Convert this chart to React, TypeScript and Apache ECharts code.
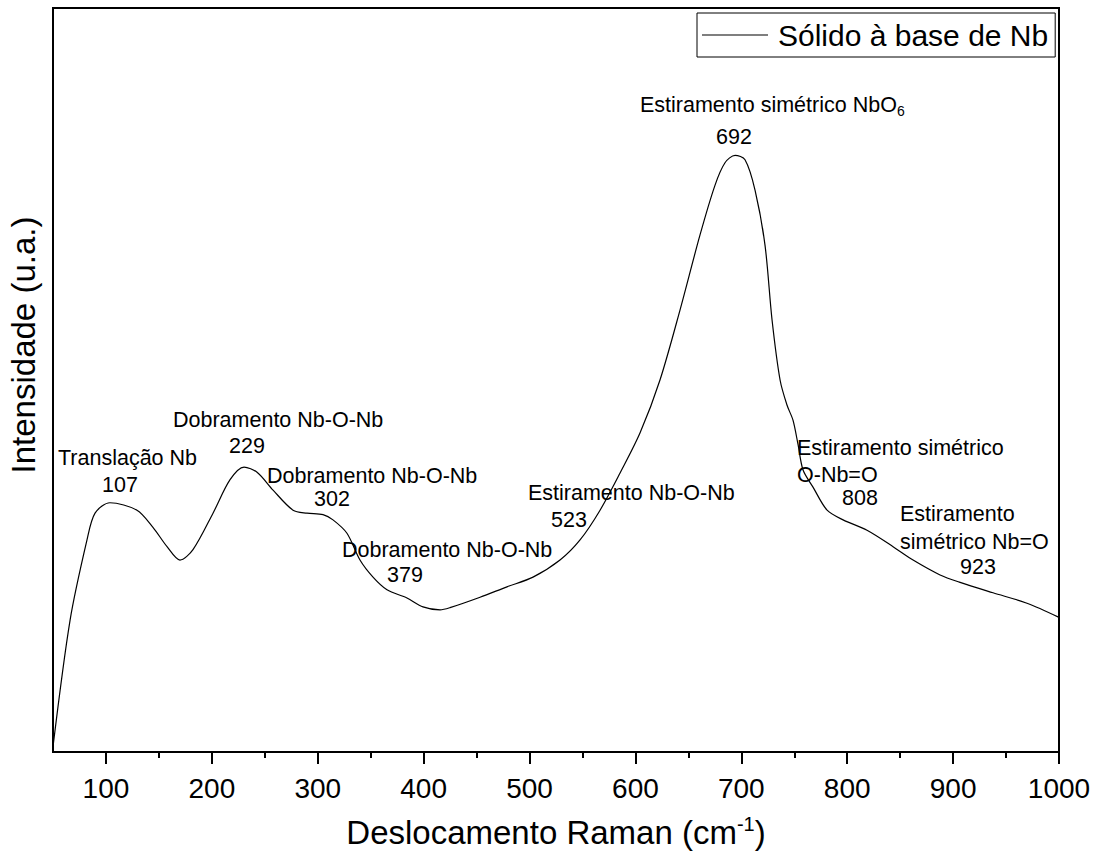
import React, { useEffect, useRef } from "react";
import * as echarts from "echarts";

const ramanShift = [50, 66.1, 82.1, 89.7, 103.8, 129.3, 144.4, 157.7, 169.9, 182.2, 201.1, 217.2, 230.4, 242.7, 257.8, 276.7, 289.9, 305.0, 314.4, 327.6, 339.9, 352.2, 365.4, 384.3, 399.4, 415.5, 424.9, 453.3, 478.7, 503.3, 528.8, 547.7, 566.6, 585.5, 604.4, 623.2, 642.1, 661.0, 675.2, 684.6, 694.1, 703.5, 713.0, 722.4, 729.0, 736.6, 743.2, 748.8, 753.6, 758.3, 767.7, 781.0, 796.1, 818.7, 843.3, 862.2, 887.7, 906.6, 937.7, 969.8, 1000];
const intensity = [0.7, 17.7, 28.5, 32.1, 33.5, 32.5, 30.2, 27.6, 25.8, 27.2, 32.1, 36.6, 38.3, 37.6, 35.2, 32.5, 32.1, 31.9, 31.2, 29.4, 25.8, 23.5, 21.8, 20.7, 19.5, 19.1, 19.4, 20.8, 22.2, 23.5, 25.8, 28.5, 32.5, 37.5, 42.9, 50.0, 59.4, 69.5, 76.2, 79.2, 80.2, 79.6, 75.5, 68.1, 58.1, 50.0, 46.6, 44.6, 41.3, 37.9, 35.6, 32.5, 31.2, 29.8, 27.6, 25.8, 23.8, 22.8, 21.4, 20.0, 18.1];
const majorTicks = [100, 200, 300, 400, 500, 600, 700, 800, 900, 1000];
const minorTicks = [150, 250, 350, 450, 550, 650, 750, 850, 950];
const seriesName = "Sólido à base de Nb";
const peakValues = ["107", "229", "302", "379", "523", "692", "808", "923"];

const FONT = "Liberation Sans, Arial, sans-serif";

export default function App() {
  const ref = useRef<HTMLDivElement>(null);
  useEffect(() => {
    if (!ref.current) return;
    const chart = echarts.init(ref.current, null, { renderer: "svg" });
    const ann = 21.5;
    const txt = (x: number, y: number, text: string, align: string = "left") => ({
      type: "text",
      x,
      y,
      style: { text, fontSize: ann, fontFamily: FONT, fill: "#000", align, verticalAlign: "middle" },
    });
    const option: any = {
      animation: false,
      backgroundColor: "#fff",
      textStyle: { fontFamily: FONT },
      grid: { left: 53, right: 43, top: 8, bottom: 110, show: true, borderColor: "#000", borderWidth: 2, backgroundColor: "transparent" },
      legend: {
        left: 697,
        top: 13,
        orient: "horizontal",
        borderColor: "#000",
        borderWidth: 1,
        padding: [7, 7, 7, 5],
        itemWidth: 66,
        itemHeight: 1.2,
        data: [{ name: seriesName, icon: "rect" }],
        textStyle: { fontSize: 30, color: "#000", fontFamily: FONT, padding: [0, 0, 0, 5] },
      },
      xAxis: [
        {
          type: "value",
          min: 50,
          max: 1000,
          axisLine: { show: false },
          splitLine: { show: false },
          axisTick: { show: true, customValues: majorTicks, length: 12, lineStyle: { color: "#000", width: 2 } },
          axisLabel: { show: true, customValues: majorTicks, fontSize: 28, color: "#000", fontFamily: FONT, margin: 22, formatter: (v: number) => String(v) },
        },
        {
          type: "value",
          min: 50,
          max: 1000,
          position: "bottom",
          axisLine: { show: false },
          splitLine: { show: false },
          axisTick: { show: true, customValues: minorTicks, length: 6, lineStyle: { color: "#000", width: 2 } },
          axisLabel: { show: false },
        },
      ],
      yAxis: {
        type: "value",
        min: 0,
        max: 100,
        axisLine: { show: false },
        axisTick: { show: false },
        axisLabel: { show: false },
        splitLine: { show: false },
      },
      series: [
        {
          name: seriesName,
          type: "line",
          xAxisIndex: 0,
          data: ramanShift.map((x, i) => [x, intensity[i]]),
          showSymbol: false,
          symbol: "none",
          smooth: 0.3,
          lineStyle: { color: "#000", width: 1.2 },
          itemStyle: { color: "#000" },
        },
      ],
      graphic: [
        {
          type: "text",
          x: 556,
          y: 832,
          style: {
            text: "{a|Deslocamento Raman (cm}{s|-1}{a|)}",
            align: "center",
            verticalAlign: "middle",
            fill: "#000",
            rich: {
              a: { fontSize: 33, fontFamily: FONT, lineHeight: 36, fill: "#000" },
              s: { fontSize: 20, fontFamily: FONT, lineHeight: 22, verticalAlign: "top", fill: "#000" },
            },
          },
        },
        {
          type: "text",
          x: 23,
          y: 345,
          rotation: Math.PI / 2,
          style: { text: "Intensidade (u.a.)", fontSize: 33, fontFamily: FONT, fill: "#000", align: "center", verticalAlign: "middle" },
        },
        txt(58, 458, "Translação Nb"),
        txt(120, 485, peakValues[0], "center"),
        txt(173, 420, "Dobramento Nb-O-Nb"),
        txt(247, 446, peakValues[1], "center"),
        txt(267, 476, "Dobramento Nb-O-Nb"),
        txt(332, 499, peakValues[2], "center"),
        txt(342, 550, "Dobramento Nb-O-Nb"),
        txt(405, 575, peakValues[3], "center"),
        txt(528, 493, "Estiramento Nb-O-Nb"),
        txt(569, 520, peakValues[4], "center"),
        {
          type: "text",
          x: 640,
          y: 105,
          style: {
            text: "{a|Estiramento simétrico NbO}{s|6}",
            align: "left",
            verticalAlign: "middle",
            fill: "#000",
            rich: {
              a: { fontSize: ann, fontFamily: FONT, lineHeight: 26, fill: "#000" },
              s: { fontSize: 14, fontFamily: FONT, lineHeight: 14, verticalAlign: "bottom", fill: "#000" },
            },
          },
        },
        txt(734, 137, peakValues[5], "center"),
        txt(797, 448, "Estiramento simétrico"),
        txt(797, 475, "O-Nb=O"),
        txt(860, 498, peakValues[6], "center"),
        txt(900, 514, "Estiramento"),
        txt(900, 542, "simétrico Nb=O"),
        txt(978, 567, peakValues[7], "center"),
      ],
    };
    chart.setOption(option);
    return () => chart.dispose();
  }, []);
  return <div ref={ref} style={{ position: "fixed", left: 0, top: 0, width: 1102, height: 862, background: "#fff" }} />;
}
